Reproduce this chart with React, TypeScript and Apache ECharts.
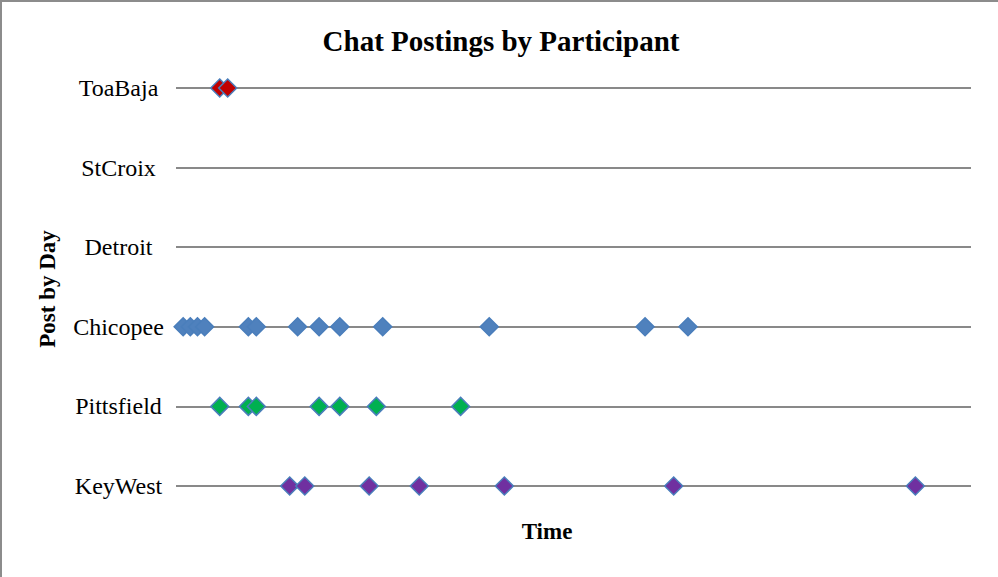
import React, { useEffect, useRef } from "react";
import * as echarts from "echarts";

const categories = ["KeyWest", "Pittsfield", "Chicopee", "Detroit", "StCroix", "ToaBaja"];

// x values: time on an arbitrary 0..100 scale
const toaBajaTimes = [5.5, 6.5];
const stCroixTimes: number[] = [];
const detroitTimes: number[] = [];
const chicopeeTimes = [0.9, 1.8, 2.7, 3.6, 9.1, 10.1, 15.3, 18.0, 20.6, 26.0, 39.4, 59.0, 64.4];
const pittsfieldTimes = [5.5, 9.1, 10.1, 18.0, 20.6, 25.2, 35.8];
const keyWestTimes = [14.3, 16.2, 24.3, 30.6, 41.3, 62.6, 93.0];

const titleText = "Chat Postings by Participant";
const xName = "Time";
const yName = "Post by Day";

const FONT = "'Liberation Serif', 'Times New Roman', serif";
const EDGE = "#4A7EBB";

function mk(name: string, cat: string, times: number[], fill: string) {
  return {
    type: "scatter",
    name,
    symbol: "diamond",
    symbolSize: 18,
    itemStyle: { color: fill, borderColor: EDGE, borderWidth: 1.5, opacity: 1 },
    data: times.map((t) => [t, cat]),
    z: 3,
  };
}

export default function App() {
  const ref = useRef<HTMLDivElement>(null);
  useEffect(() => {
    if (!ref.current) return;
    const chart = echarts.init(ref.current, null, { renderer: "svg" });
    chart.setOption({
      animation: false,
      backgroundColor: "#fff",
      grid: { left: 176, right: 27, top: 88, bottom: 91, containLabel: false },
      xAxis: {
        type: "value",
        min: 0,
        max: 100,
        show: true,
        axisLine: { show: false },
        axisTick: { show: false },
        axisLabel: { show: false },
        splitLine: { show: false },
      },
      yAxis: {
        type: "category",
        data: categories,
        boundaryGap: false,
        axisLine: { show: false },
        axisTick: { show: false },
        axisLabel: {
          align: "center",
          margin: 57.5,
          fontSize: 24,
          fontFamily: FONT,
          color: "#000",
        },
        splitLine: { show: true, lineStyle: { color: "#898989", width: 2 } },
      },
      graphic: [
        {
          type: "rect",
          shape: { x: 1, y: 1, width: 1100, height: 700 },
          style: { fill: "none", stroke: "#8c8c8c", lineWidth: 2 },
          silent: true,
        },
        {
          type: "text",
          x: 501,
          y: 41,
          style: {
            text: titleText,
            font: `bold 29px ${FONT}`,
            fill: "#000",
            align: "center",
            verticalAlign: "middle",
          },
        },
        {
          type: "text",
          x: 547,
          y: 531,
          style: {
            text: xName,
            font: `bold 23px ${FONT}`,
            fill: "#000",
            align: "center",
            verticalAlign: "middle",
          },
        },
        {
          type: "text",
          x: 47,
          y: 289,
          rotation: Math.PI / 2,
          style: {
            text: yName,
            font: `bold 23px ${FONT}`,
            fill: "#000",
            align: "center",
            verticalAlign: "middle",
          },
        },
      ],
      series: [
        mk("KeyWest", "KeyWest", keyWestTimes, "#7030A0"),
        mk("Pittsfield", "Pittsfield", pittsfieldTimes, "#00B050"),
        mk("Chicopee", "Chicopee", chicopeeTimes, "#4F81BD"),
        mk("Detroit", "Detroit", detroitTimes, "#4F81BD"),
        mk("StCroix", "StCroix", stCroixTimes, "#4F81BD"),
        mk("ToaBaja", "ToaBaja", toaBajaTimes, "#C00000"),
      ],
    });
    return () => chart.dispose();
  }, []);
  return (
    <div
      ref={ref}
      style={{ position: "fixed", left: 0, top: 0, width: 998, height: 577 }}
    />
  );
}
